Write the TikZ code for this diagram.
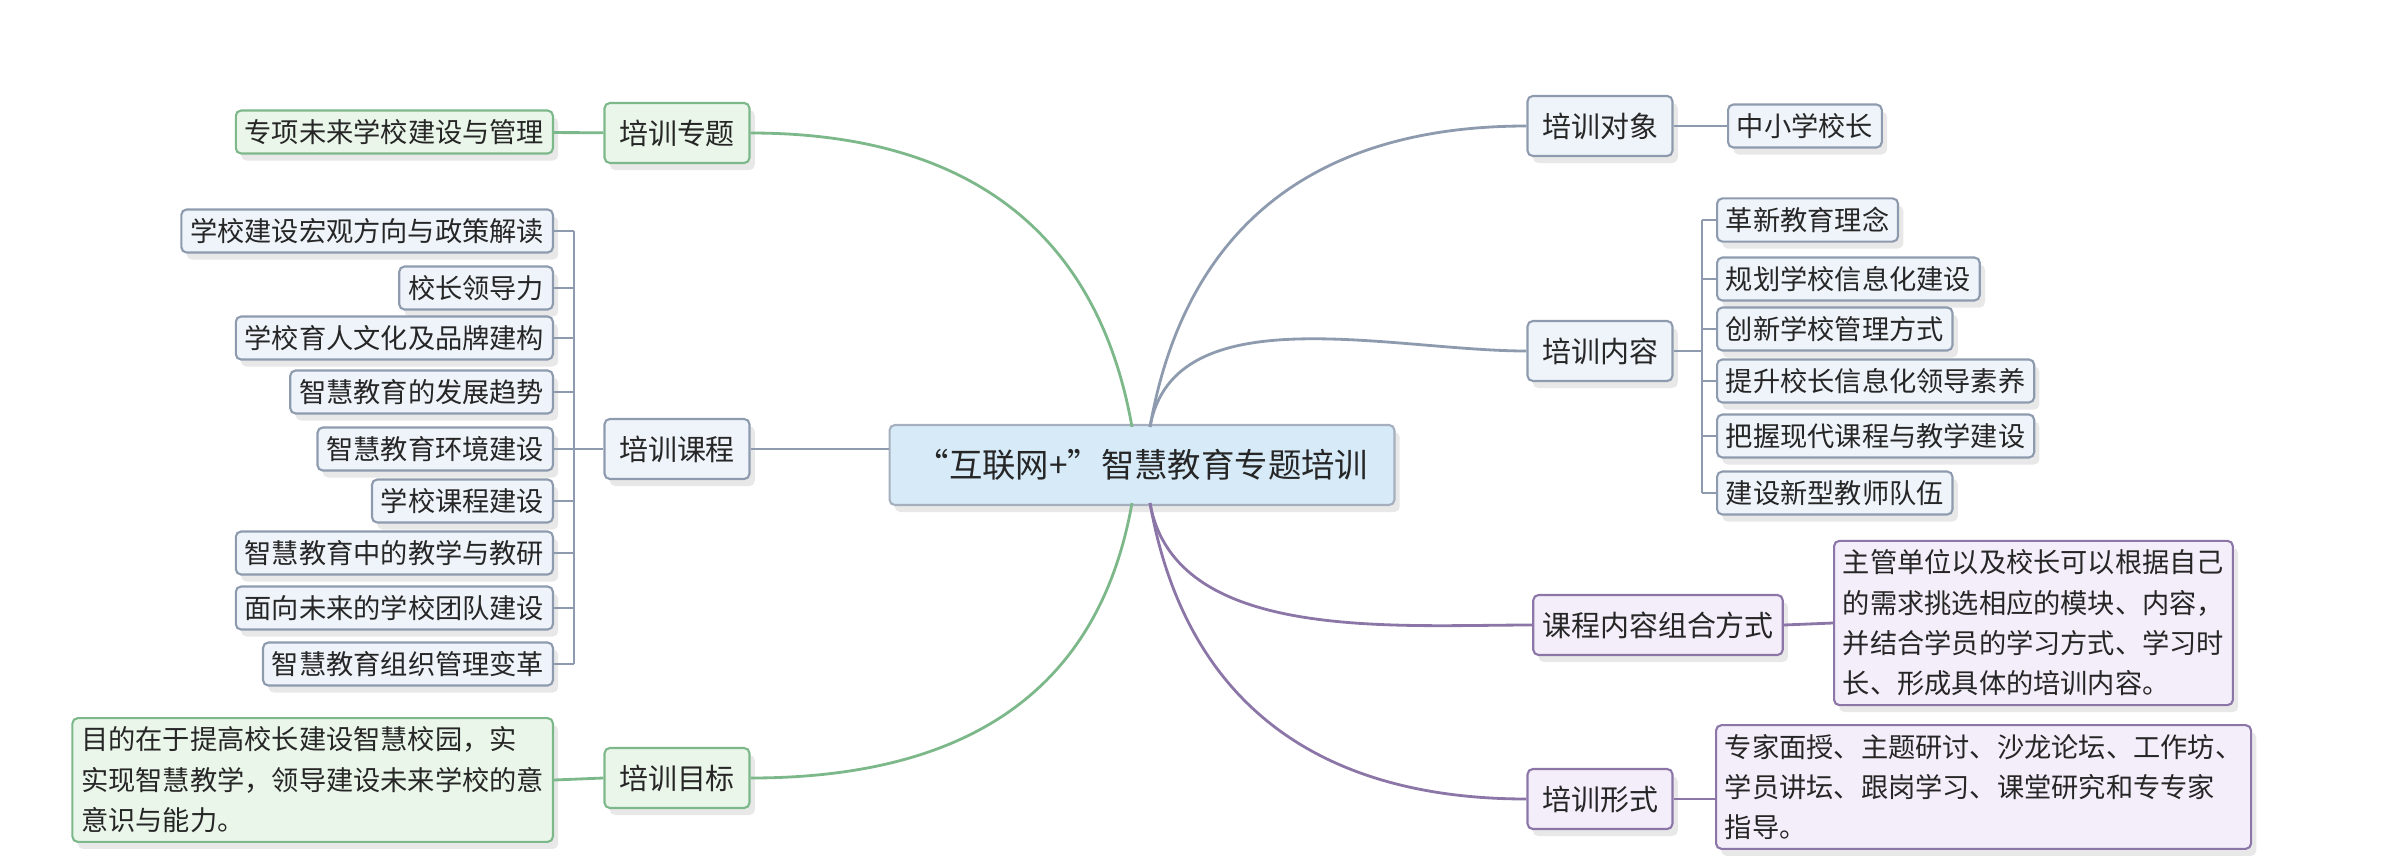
\documentclass[tikz,border=0pt]{standalone}
\usepackage{fontspec}
\setmainfont{Noto Sans CJK SC}
\usetikzlibrary{shadows}

\definecolor{grn}{HTML}{7DB88A}
\definecolor{grnf}{HTML}{EAF6EA}
\definecolor{blu}{HTML}{8E9BAE}
\definecolor{bluf}{HTML}{EEF4FA}
\definecolor{pur}{HTML}{8C76A8}
\definecolor{purf}{HTML}{F3EEF9}
\definecolor{rootf}{HTML}{D6EAF8}

\tikzset{
  box/.style={draw, rounded corners=3pt, line width=1.2pt, inner sep=5pt,
    font=\fontsize{15.5}{23}\selectfont, text=black!85,
    drop shadow={opacity=0.18, shadow xshift=3pt, shadow yshift=-4pt}},
  gbox/.style={box, draw=grn, fill=grnf},
  bbox/.style={box, draw=blu, fill=bluf},
  pbox/.style={box, draw=pur, fill=purf},
  topic/.style={minimum width=2.9cm, minimum height=1.2cm, font=\fontsize{16.5}{20}\selectfont},
  leaf/.style={minimum height=0.86cm},
  link/.style={line width=1.6pt},
}

\begin{document}
\begin{tikzpicture}[x=0.02cm, y=-0.02cm]
  \useasboundingbox (0,0) rectangle (2400,862);

  % centre
  \node[box, draw=blu!80, fill=rootf, minimum width=10.1cm, minimum height=1.6cm,
        font=\fontsize{19}{22}\selectfont] (root) at (1142,465) {“互联网+”智慧教育专题培训};

  % left topics
  \node[gbox, topic] (zhuanti) at (677,133) {培训专题};
  \node[bbox, topic] (kecheng) at (677,449) {培训课程};
  \node[gbox, topic] (mubiao) at (677,778) {培训目标};

  % right topics
  \node[bbox, topic] (duixiang) at (1600,126) {培训对象};
  \node[bbox, topic] (neirong) at (1600,351) {培训内容};
  \node[pbox, topic, minimum width=3.5cm] (zuhe) at (1658,625) {课程内容组合方式};
  \node[pbox, topic] (xingshi) at (1600,799) {培训形式};

  % branches from centre
  \coordinate (rl) at (1132,427);
  \coordinate (rr) at (1150,427);
  \coordinate (bl) at (1132,503);
  \coordinate (br) at (1150,503);
  \draw[link, grn] (rl) to[out=100, in=0, looseness=1.1] (zhuanti.east);
  \draw[link, blu] (kecheng.east) -- (kecheng.east -| root.west);
  \draw[link, grn] (bl) to[out=-100, in=0, looseness=1.1] (mubiao.east);
  \draw[link, blu] (rr) to[out=80, in=180, looseness=1.1] (duixiang.west);
  \draw[link, blu] (rr) to[out=80, in=180, looseness=0.9] (neirong.west);
  \draw[link, pur] (br) to[out=-80, in=180, looseness=0.9] (zuhe.west);
  \draw[link, pur] (br) to[out=-80, in=180, looseness=1.1] (xingshi.west);

  % left leaves
  \node[gbox, leaf, anchor=east] (zt1) at (554,132) {专项未来学校建设与管理};
  \draw[link, grn] (zt1) -- (zhuanti);

  \foreach \name/\y/\txt in {k1/231/学校建设宏观方向与政策解读, k2/288/校长领导力,
      k3/338/学校育人文化及品牌建构, k4/392/智慧教育的发展趋势,
      k5/449/智慧教育环境建设, k6/501/学校课程建设,
      k7/553/智慧教育中的教学与教研, k8/608/面向未来的学校团队建设,
      k9/664/智慧教育组织管理变革} {
    \node[bbox, leaf, anchor=east] (\name) at (554,\y) {\txt};
    \coordinate (\name b) at (574,\y);
    \draw[link, blu] (\name.east) -- (\name b);
  }
  \draw[link, blu] (k1b) -- (k9b);
  \draw[link, blu] (k5b) -- (kecheng.west);

  \node[gbox, anchor=east, align=left, minimum width=9cm] (mb1) at (554,780)
    {目的在于提高校长建设智慧校园，实\\实现智慧教学，领导建设未来学校的意\\意识与能力。};
  \draw[link, grn] (mb1.east) -- (mubiao.west);

  % right leaves
  \node[bbox, leaf, anchor=west] (dx1) at (1727,126) {中小学校长};
  \draw[link, blu] (duixiang) -- (dx1);

  \foreach \name/\y/\txt in {n1/220/革新教育理念, n2/279/规划学校信息化建设,
      n3/329/创新学校管理方式, n4/381/提升校长信息化领导素养,
      n5/436/把握现代课程与教学建设, n6/493/建设新型教师队伍} {
    \node[bbox, leaf, anchor=west] (\name) at (1716,\y) {\txt};
    \coordinate (\name b) at (1702,\y);
    \draw[link, blu] (\name.west) -- (\name b);
  }
  \draw[link, blu] (n1b) -- (n6b);
  \draw[link, blu] (neirong.east) -- (neirong.east -| n1b);

  \node[pbox, anchor=west, align=left] (zh1) at (1833,623)
    {主管单位以及校长可以根据自己\\的需求挑选相应的模块、内容，\\并结合学员的学习方式、学习时\\长、形成具体的培训内容。};
  \draw[link, pur] (zuhe.east) -- (zh1.west);

  \node[pbox, anchor=west, align=left] (xs1) at (1715,787)
    {专家面授、主题研讨、沙龙论坛、工作坊、\\学员讲坛、跟岗学习、课堂研究和专专家\\指导。};
  \draw[link, pur] (xingshi.east) -- (xs1.west |- xingshi.east);
\end{tikzpicture}
\end{document}
